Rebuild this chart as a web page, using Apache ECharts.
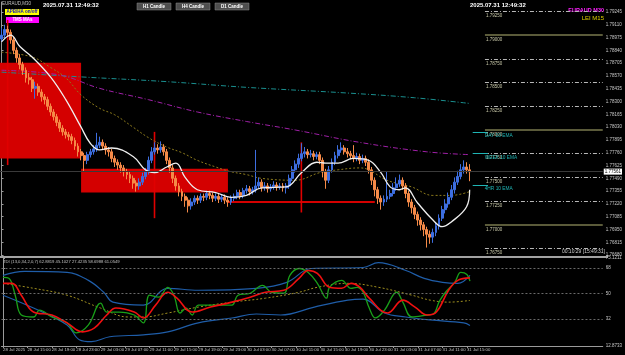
<!DOCTYPE html>
<html>
<head>
<meta charset="utf-8">
<script src="https://cdn.jsdelivr.net/npm/echarts@6/dist/echarts.min.js"></script>
<style>
html, body { margin: 0; padding: 0; background: #000; }
#chart { width: 625px; height: 355px; }
</style>
</head>
<body>
<div id="chart"></div>
<script>
// EURAUD M30, bars from 28 Jul 11:00 to 31 Jul 15:30
const firstOpen = 1.7896;
const closes = [
  1.7900, 1.7906, 1.7903, 1.7895, 1.7884, 1.7876, 1.7869, 1.7863, 1.7855, 1.7853,
  1.7844, 1.7846, 1.7840, 1.7835, 1.7832, 1.7825, 1.7819, 1.7814, 1.7808, 1.7802,
  1.7798, 1.7795, 1.7793, 1.7789, 1.7783, 1.7777, 1.7773, 1.7768, 1.7774, 1.7777,
  1.7780, 1.7784, 1.7787, 1.7783, 1.7779, 1.7777, 1.7770, 1.7766, 1.7763, 1.7760,
  1.7756, 1.7753, 1.7749, 1.7744, 1.7741, 1.7745, 1.7751, 1.7756, 1.7768, 1.7777,
  1.7781, 1.7779, 1.7782, 1.7777, 1.7768, 1.7760, 1.7749, 1.7741, 1.7735, 1.7730,
  1.7726, 1.7720, 1.7724, 1.7728, 1.7726, 1.7730, 1.7729, 1.7733, 1.7731, 1.7728,
  1.7730, 1.7727, 1.7729, 1.7726, 1.7724, 1.7728, 1.7730, 1.7734, 1.7731, 1.7736,
  1.7738, 1.7735, 1.7737, 1.7741, 1.7745, 1.7739, 1.7741, 1.7738, 1.7740, 1.7742,
  1.7740, 1.7741, 1.7739, 1.7741, 1.7749, 1.7758, 1.7764, 1.7770, 1.7775, 1.7777,
  1.7774, 1.7775, 1.7772, 1.7774, 1.7768, 1.7756, 1.7747, 1.7758, 1.7766, 1.7773,
  1.7779, 1.7781, 1.7777, 1.7775, 1.7773, 1.7770, 1.7772, 1.7768, 1.7770, 1.7766,
  1.7758, 1.7747, 1.7737, 1.7728, 1.7724, 1.7727, 1.7730, 1.7733, 1.7739, 1.7743,
  1.7747, 1.7741, 1.7733, 1.7724, 1.7718, 1.7711, 1.7705, 1.7700, 1.7695, 1.7690,
  1.7687, 1.7692, 1.7699, 1.7707, 1.7716, 1.7722, 1.7729, 1.7737, 1.7745, 1.7751,
  1.7758, 1.7761, 1.7758, 1.7756
];
const highs = [
  1.7908, 1.7911, 1.7910, 1.7906, 1.7898, 1.7887, 1.7880, 1.7872, 1.7866, 1.7860,
  1.7856, 1.7851, 1.7849, 1.7843, 1.7838, 1.7835, 1.7828, 1.7822, 1.7817, 1.7811,
  1.7805, 1.7801, 1.7798, 1.7796, 1.7792, 1.7786, 1.7780, 1.7776, 1.7777, 1.7780,
  1.7784, 1.7797, 1.7793, 1.7790, 1.7786, 1.7782, 1.7780, 1.7773, 1.7769, 1.7766,
  1.7763, 1.7759, 1.7756, 1.7752, 1.7747, 1.7749, 1.7755, 1.7760, 1.7772, 1.7782,
  1.7787, 1.7785, 1.7788, 1.7785, 1.7780, 1.7771, 1.7763, 1.7752, 1.7744, 1.7738,
  1.7733, 1.7729, 1.7728, 1.7731, 1.7731, 1.7733, 1.7733, 1.7736, 1.7736, 1.7734,
  1.7733, 1.7733, 1.7732, 1.7732, 1.7729, 1.7731, 1.7733, 1.7737, 1.7737, 1.7739,
  1.7742, 1.7741, 1.7740, 1.7779, 1.7750, 1.7748, 1.7745, 1.7744, 1.7743, 1.7746,
  1.7745, 1.7744, 1.7744, 1.7744, 1.7753, 1.7762, 1.7768, 1.7775, 1.7786, 1.7782,
  1.7780, 1.7779, 1.7778, 1.7777, 1.7777, 1.7771, 1.7759, 1.7762, 1.7770, 1.7777,
  1.7784, 1.7787, 1.7784, 1.7781, 1.7778, 1.7784, 1.7776, 1.7775, 1.7774, 1.7773,
  1.7769, 1.7761, 1.7750, 1.7740, 1.7731, 1.7731, 1.7756, 1.7737, 1.7744, 1.7750,
  1.7753, 1.7750, 1.7744, 1.7736, 1.7727, 1.7721, 1.7714, 1.7708, 1.7703, 1.7698,
  1.7694, 1.7696, 1.7703, 1.7711, 1.7720, 1.7727, 1.7734, 1.7742, 1.7750, 1.7757,
  1.7764, 1.7768, 1.7766, 1.7764
];
const lows = [
  1.7893, 1.7897, 1.7899, 1.7891, 1.7880, 1.7871, 1.7864, 1.7858, 1.7850, 1.7848,
  1.7840, 1.7833, 1.7836, 1.7830, 1.7827, 1.7821, 1.7815, 1.7810, 1.7804, 1.7798,
  1.7794, 1.7791, 1.7789, 1.7785, 1.7779, 1.7772, 1.7768, 1.7756, 1.7764, 1.7771,
  1.7774, 1.7777, 1.7781, 1.7779, 1.7774, 1.7772, 1.7766, 1.7761, 1.7758, 1.7755,
  1.7751, 1.7748, 1.7744, 1.7738, 1.7735, 1.7737, 1.7742, 1.7748, 1.7753, 1.7765,
  1.7774, 1.7775, 1.7776, 1.7773, 1.7764, 1.7755, 1.7744, 1.7736, 1.7730, 1.7725,
  1.7719, 1.7713, 1.7716, 1.7721, 1.7722, 1.7723, 1.7725, 1.7726, 1.7727, 1.7724,
  1.7725, 1.7723, 1.7724, 1.7722, 1.7719, 1.7721, 1.7725, 1.7727, 1.7727, 1.7728,
  1.7733, 1.7731, 1.7732, 1.7734, 1.7738, 1.7735, 1.7736, 1.7734, 1.7735, 1.7737,
  1.7736, 1.7737, 1.7735, 1.7733, 1.7738, 1.7746, 1.7755, 1.7760, 1.7767, 1.7771,
  1.7770, 1.7771, 1.7768, 1.7769, 1.7764, 1.7750, 1.7738, 1.7744, 1.7755, 1.7763,
  1.7770, 1.7776, 1.7774, 1.7771, 1.7769, 1.7766, 1.7767, 1.7764, 1.7765, 1.7762,
  1.7754, 1.7742, 1.7730, 1.7722, 1.7716, 1.7720, 1.7724, 1.7727, 1.7730, 1.7736,
  1.7740, 1.7737, 1.7728, 1.7719, 1.7712, 1.7706, 1.7699, 1.7694, 1.7688, 1.7676,
  1.7680, 1.7681, 1.7688, 1.7695, 1.7704, 1.7712, 1.7718, 1.7726, 1.7733, 1.7742,
  1.7748, 1.7754, 1.7754, 1.7746
];
const totalSlots = 197; // bars plus the empty chart shift on the right

const tickEvery = 8;
const tickLabels = [
  '28 Jul 2025', '28 Jul 15:00', '28 Jul 19:00', '28 Jul 23:00', '29 Jul 03:00',
  '29 Jul 07:00', '29 Jul 11:00', '29 Jul 15:00', '29 Jul 19:00', '29 Jul 23:00',
  '30 Jul 03:00', '30 Jul 07:00', '30 Jul 11:00', '30 Jul 15:00', '30 Jul 19:00',
  '30 Jul 23:00', '31 Jul 03:00', '31 Jul 07:00', '31 Jul 11:00', '31 Jul 15:00'
];
const priceTicks = [
  1.76680, 1.76815, 1.76950, 1.77085, 1.77220, 1.77355, 1.77490, 1.77625, 1.77760,
  1.77895, 1.78030, 1.78165, 1.78300, 1.78435, 1.78570, 1.78705, 1.78840, 1.78975,
  1.79110, 1.79245
];
const priceMin = 1.76671, priceMax = 1.79350;
const bid = 1.77561;

// moving averages, [bar, price]
const fastMA = [[0,1.7893],[3,1.7900],[6,1.7888],[10,1.7877],[16,1.7856],[21,1.7832],[26,1.7803],
  [29,1.7786],[32,1.7779],[36,1.7781],[43,1.7772],[47,1.7758],[50,1.7755],[54,1.7761],[57,1.7765],
  [60,1.7750],[64,1.7737],[70,1.7734],[75,1.7729],[80,1.7731],[85,1.7739],[93,1.7740],[98,1.7755],
  [103,1.7766],[106,1.7765],[110,1.7765],[115,1.7770],[120,1.7768],[124,1.7755],[127,1.7740],
  [130,1.7737],[132,1.7739],[136,1.7723],[141,1.7705],[144,1.7698],[147,1.7703],[152,1.7719],[153,1.7737]];
const slowMA = [[0,1.7882],[10,1.7877],[16,1.7866],[21,1.7855],[26,1.7837],[32,1.7823],[37,1.7816],
  [43,1.7803],[48,1.7792],[54,1.7782],[59,1.7776],[64,1.7768],[70,1.7761],[75,1.7756],[80,1.7753],
  [85,1.7749],[96,1.7747],[104,1.7755],[110,1.7758],[117,1.7760],[120,1.7758],[126,1.7747],
  [134,1.7740],[141,1.7731],[147,1.7731],[153,1.7735]];
const purpleMA = [[0,1.7863],[19,1.7858],[32,1.7844],[48,1.7832],[64,1.7819],[80,1.7809],
  [96,1.7800],[117,1.7787],[139,1.7777],[153,1.7774]];
const tealMA = [[0,1.7861],[26,1.7856],[54,1.7851],[80,1.7845],[113,1.7839],[135,1.7834],[153,1.7828]];

// D1 heiken ashi candles
const d1Start = [-22, 26, 74];
const d1End = [26, 74, 122];
const d1Open = [1.7871, 1.7759, 1.7725];
const d1Close = [1.7770, 1.7734, 1.7723];
const d1High = [1.7916, 1.7798, 1.7787];
const d1Low = [1.7763, 1.7707, 1.7713];

// round levels on the right
const levelStartBar = 158;
const levels = [1.7925, 1.7900, 1.7875, 1.7850, 1.7825, 1.7800, 1.7775, 1.7750, 1.7725, 1.7700, 1.7675];
const emaTagNames = ['DAY 10 EMA', 'WEEK 10 EMA', '4HR 10 EMA'];
const emaTagPrices = [1.7798, 1.7775, 1.7742];

// TDI oscillator, [bar, value]
const oscMin = 12.8733, oscMax = 75.1211;
const oscTicks = [12.8733, 32, 50, 68, 75.1211];
const tdiUpper = [[0,62.8],[7,65.6],[21,64.9],[28,59.3],[33,50.9],[36,43.9],[46,41.8],[54,53.7],
  [64,52.3],[83,53.7],[93,57.9],[101,67.7],[118,68.4],[123,71.9],[132,66.3],[138,60.7],[144,57.9],
  [149,57.2],[153,62.88]];
const tdiLower = [[0,48.8],[10,39.7],[21,27.8],[25,17.3],[29,15.9],[35,19.4],[46,20.8],[54,22.9],
  [64,29.2],[75,32.7],[83,35.5],[91,34.8],[102,40.4],[113,45.3],[118,46.0],[125,36.2],[132,33.4],
  [140,31.3],[151,29.2],[153,27.42]];
const tdiMid = [[0,57.2],[10,53.7],[21,48.8],[32,39.7],[41,33.4],[46,33.4],[54,36.2],[64,40.4],
  [75,43.9],[86,46.7],[97,50.9],[103,54.4],[113,57.2],[123,54.4],[134,48.8],[140,45.3],[146,43.9],[153,45.10]];
const tdiGreen = [[0,61.4],[2,60.7],[4,48.8],[6,34.8],[10,33.4],[12,38.3],[16,33.4],[21,29.2],[24,22.2],
  [28,27.8],[32,43.2],[34,36.9],[38,36.9],[43,34.8],[46,29.2],[48,48.8],[51,47.4],[54,54.4],[56,48.8],
  [58,36.2],[60,39.7],[62,34.8],[64,41.8],[70,41.8],[75,41.8],[77,48.8],[81,50.2],[85,55.8],[88,50.9],
  [92,50.2],[94,62.8],[97,67.7],[100,64.9],[103,57.2],[106,46.7],[107,54.4],[111,59.3],[114,53.7],
  [116,54.4],[118,50.9],[120,39.7],[122,32.7],[125,38.3],[129,50.9],[131,43.9],[134,33.4],[139,34.8],
  [141,35.5],[143,44.6],[145,50.9],[148,57.9],[150,64.9],[152,63.5],[153,58.70]];
const tdiRed = [[0,57.2],[3,57.2],[6,48.8],[10,36.9],[16,34.8],[21,29.2],[26,22.9],[30,25.7],[34,34.8],
  [37,39.7],[43,36.9],[46,32.7],[50,41.8],[54,50.9],[57,46.7],[62,36.9],[68,40.4],[75,43.9],[81,47.4],
  [86,50.9],[92,52.3],[97,60.7],[100,66.3],[103,64.2],[107,54.4],[111,53.7],[114,57.2],[117,54.4],
  [120,46.7],[126,36.2],[131,45.3],[135,40.4],[139,34.8],[142,36.9],[146,52.3],[149,59.3],[153,61.05]];
const oscLevels = [32, 50, 68];

const FONT = 'Liberation Sans';
const chart = echarts.init(document.getElementById('chart'));

// open of each bar is the close of the bar before
const candles = closes.map((c, i) => {
  const o = i === 0 ? firstOpen : closes[i - 1];
  return [o, c, lows[i], highs[i]];
});

const levelLines = levels.map(lv => {
  const whole = Math.abs(lv * 100 - Math.round(lv * 100)) < 1e-6;
  return [
    { coord: [levelStartBar, lv],
      lineStyle: whole ? { color: '#7a7a4e', width: 1.6, type: 'solid' } : { color: '#b8b8b8', width: 1, type: [4, 2, 1, 2] },
      label: { show: true, position: 'insideStartBottom', formatter: lv.toFixed(5), color: '#c8c8a8',
               fontSize: 4.5, fontFamily: FONT, distance: [1, 2] } },
    { coord: [totalSlots - 0.5, lv] }
  ];
});
const emaTags = emaTagNames.map((nm, k) => [
  { coord: [levelStartBar - 4, emaTagPrices[k]],
    label: { show: true, position: 'insideStartBottom', formatter: nm, color: '#1fb5b5',
             fontSize: 4.8, fontFamily: FONT, distance: [12, 1] } },
  { coord: [levelStartBar + 1, emaTagPrices[k]] }
]);
const bidLine = [[
  { coord: [-0.5, bid],
    label: { show: true, position: 'end', formatter: bid.toFixed(5), color: '#000', backgroundColor: '#fff',
             padding: [1, 1, 0, 1], fontSize: 4.5, fontFamily: FONT, distance: 1 } },
  { coord: [totalSlots - 0.5, bid] }
]];

const lineBase = { type: 'line', xAxisIndex: 1, yAxisIndex: 0, showSymbol: false, smooth: 0.4, silent: true, animation: false };
const oscBase = { type: 'line', xAxisIndex: 2, yAxisIndex: 1, showSymbol: false, smooth: 0.4, silent: true, animation: false };

const option = {
  backgroundColor: '#000',
  animation: false,
  grid: [
    { left: 0, width: 608, top: 2, height: 254 },
    { left: 0, width: 608, top: 258, height: 88 }
  ],
  xAxis: [
    { type: 'category', gridIndex: 0, data: Array.from({ length: totalSlots }, (_, i) => i), boundaryGap: true, show: false },
    { type: 'value', gridIndex: 0, min: -0.5, max: totalSlots - 0.5, show: false },
    { type: 'value', gridIndex: 1, min: -0.5, max: totalSlots - 0.5,
      splitLine: { show: false },
      axisLine: { lineStyle: { color: '#9a9a9a', width: 1 } },
      axisTick: { customValues: tickLabels.map((_, k) => k * tickEvery), length: 2, lineStyle: { color: '#9a9a9a' } },
      axisLabel: { customValues: tickLabels.map((_, k) => k * tickEvery), color: '#c8c8c8', fontSize: 4.3,
                   fontFamily: FONT, align: 'left', margin: 2,
                   formatter: v => tickLabels[Math.round(v / tickEvery)] || '' } }
  ],
  yAxis: [
    { type: 'value', gridIndex: 0, position: 'right', min: priceMin, max: priceMax,
      splitLine: { show: false },
      axisLine: { show: true, lineStyle: { color: '#9a9a9a', width: 1 } },
      axisTick: { show: true, customValues: priceTicks, length: 2, lineStyle: { color: '#9a9a9a' } },
      axisLabel: { customValues: priceTicks, color: '#c8c8c8', fontSize: 4.5, fontFamily: FONT, margin: 3,
                   formatter: v => v.toFixed(5) } },
    { type: 'value', gridIndex: 1, position: 'right', min: oscMin, max: oscMax,
      splitLine: { show: false },
      axisLine: { show: true, lineStyle: { color: '#9a9a9a', width: 1 } },
      axisTick: { show: true, customValues: oscTicks, length: 2, lineStyle: { color: '#9a9a9a' } },
      axisLabel: { customValues: oscTicks, color: '#c8c8c8', fontSize: 4.5, fontFamily: FONT, margin: 3,
                   formatter: v => Number.isInteger(v) ? String(v) : v.toFixed(4) } }
  ],
  series: [
    {
      type: 'custom', xAxisIndex: 1, yAxisIndex: 0, clip: true, z: 1, silent: true,
      data: d1Start.map((s, k) => [s, d1End[k], d1Open[k], d1Close[k], d1High[k], d1Low[k]]),
      renderItem(params, api) {
        const s = api.value(0), e = api.value(1);
        const a = api.coord([s, api.value(2)]);
        const b = api.coord([e, api.value(3)]);
        const mid = (s + e) / 2;
        const hi = api.coord([mid, api.value(4)]);
        const lo = api.coord([mid, api.value(5)]);
        const top = Math.min(a[1], b[1]);
        const h = Math.max(Math.abs(a[1] - b[1]), 2);
        return { type: 'group', children: [
          { type: 'rect', shape: { x: a[0], y: top, width: b[0] - a[0], height: h }, style: { fill: '#d40000' } },
          { type: 'line', shape: { x1: hi[0], y1: hi[1], x2: lo[0], y2: lo[1] }, style: { stroke: '#e00000', lineWidth: 1.6 } }
        ] };
      }
    },
    Object.assign({}, lineBase, { data: tealMA, z: 2, lineStyle: { color: '#1a8f8f', width: 1, type: [5, 2, 1, 2] },
      markLine: { silent: true, symbol: 'none', animation: false, lineStyle: { color: '#3a3a3a', width: 1, type: 'solid' }, data: bidLine } }),
    Object.assign({}, lineBase, { data: purpleMA, z: 2, lineStyle: { color: '#a020a8', width: 1, type: [5, 2, 1, 2] },
      markLine: { silent: true, symbol: 'none', animation: false, data: levelLines } }),
    Object.assign({}, lineBase, { data: slowMA, z: 2, lineStyle: { color: '#8c7a1c', width: 1, type: [2, 2] },
      markLine: { silent: true, symbol: 'none', animation: false, lineStyle: { color: '#1fb5b5', width: 1, type: 'solid' }, data: emaTags } }),
    {
      type: 'candlestick', xAxisIndex: 0, yAxisIndex: 0, z: 3, barWidth: 2.4, silent: true,
      data: candles,
      itemStyle: { color: '#3d6ee0', color0: '#f58a48', borderColor: '#3d6ee0', borderColor0: '#f58a48', borderWidth: 1 }
    },
    Object.assign({}, lineBase, { data: fastMA, z: 4, lineStyle: { color: '#f0f0f0', width: 1.3 } }),

    Object.assign({}, oscBase, { data: tdiMid, lineStyle: { color: '#a09020', width: 1, type: [2, 2] },
      markLine: { silent: true, symbol: 'none', animation: false, label: { show: false },
        lineStyle: { color: '#6a6a6a', width: 1, type: [2, 2] }, data: oscLevels.map(v => ({ yAxis: v })) } }),
    Object.assign({}, oscBase, { data: tdiUpper, lineStyle: { color: '#1f5da8', width: 1.2 } }),
    Object.assign({}, oscBase, { data: tdiLower, lineStyle: { color: '#1f5da8', width: 1.2 } }),
    Object.assign({}, oscBase, { data: tdiGreen, lineStyle: { color: '#19a019', width: 1.3 } }),
    Object.assign({}, oscBase, { data: tdiRed, lineStyle: { color: '#f01010', width: 1.6 } })
  ],
  graphic: [
    { type: 'line', shape: { x1: 0, y1: 257, x2: 608, y2: 257 }, style: { stroke: '#d8d8d8', lineWidth: 1.5 }, silent: true },
    { type: 'text', left: 2, top: 1, style: { text: 'EURAUD,M30', fill: '#c0c0c0', font: '4.5px ' + FONT } },
    { type: 'text', left: 43, top: 2, style: { text: '2025.07.31 12:49:32', fill: '#ffffff', font: 'bold 6px ' + FONT } },
    { type: 'text', left: 470, top: 2, style: { text: '2025.07.31 12:49:32', fill: '#ffffff', font: 'bold 6px ' + FONT } },
    { type: 'rect', shape: { x: 5, y: 9, width: 34, height: 6 }, style: { fill: '#ffff00' } },
    { type: 'text', x: 22, y: 12, style: { text: 'APB/HA on/off', fill: '#1010c0', font: 'bold 4.5px ' + FONT, align: 'center', verticalAlign: 'middle' } },
    { type: 'rect', shape: { x: 6, y: 17, width: 33, height: 6 }, style: { fill: '#ff00ff' } },
    { type: 'text', x: 22.5, y: 20, style: { text: 'TMS MAs', fill: '#ffffff', font: 'bold 4.5px ' + FONT, align: 'center', verticalAlign: 'middle' } },
    { type: 'rect', shape: { x: 137, y: 3, width: 34, height: 7 }, style: { fill: '#4e4e4e', stroke: '#8a8a8a', lineWidth: 0.5 } },
    { type: 'text', x: 154, y: 6.5, style: { text: 'H1 Candle', fill: '#ffffff', font: 'bold 4.5px ' + FONT, align: 'center', verticalAlign: 'middle' } },
    { type: 'rect', shape: { x: 176, y: 3, width: 34, height: 7 }, style: { fill: '#4e4e4e', stroke: '#8a8a8a', lineWidth: 0.5 } },
    { type: 'text', x: 193, y: 6.5, style: { text: 'H4 Candle', fill: '#ffffff', font: 'bold 4.5px ' + FONT, align: 'center', verticalAlign: 'middle' } },
    { type: 'rect', shape: { x: 215, y: 3, width: 34, height: 7 }, style: { fill: '#4e4e4e', stroke: '#8a8a8a', lineWidth: 0.5 } },
    { type: 'text', x: 232, y: 6.5, style: { text: 'D1 Candle', fill: '#ffffff', font: 'bold 4.5px ' + FONT, align: 'center', verticalAlign: 'middle' } },
    { type: 'text', x: 604, y: 10, style: { text: 'EURAUD M30', fill: '#ff20ff', font: 'bold 5.5px ' + FONT, align: 'right', verticalAlign: 'middle' } },
    { type: 'text', x: 604, y: 18, style: { text: 'LEI M15', fill: '#e0d000', font: '6px ' + FONT, align: 'right', verticalAlign: 'middle' } },
    { type: 'text', x: 605, y: 252, style: { text: '00:10:29 [15:49:31]', fill: '#d0d0d0', font: '5px ' + FONT, align: 'right', verticalAlign: 'middle' } },
    { type: 'text', left: 3, top: 260, style: { text: 'TDI (13,0,34,2,0,7) 62.8819 45.1027 27.4235 58.6988 61.0549', fill: '#c0c0c0', font: '4.2px ' + FONT } }
  ]
};

chart.setOption(option);
</script>
</body>
</html>
